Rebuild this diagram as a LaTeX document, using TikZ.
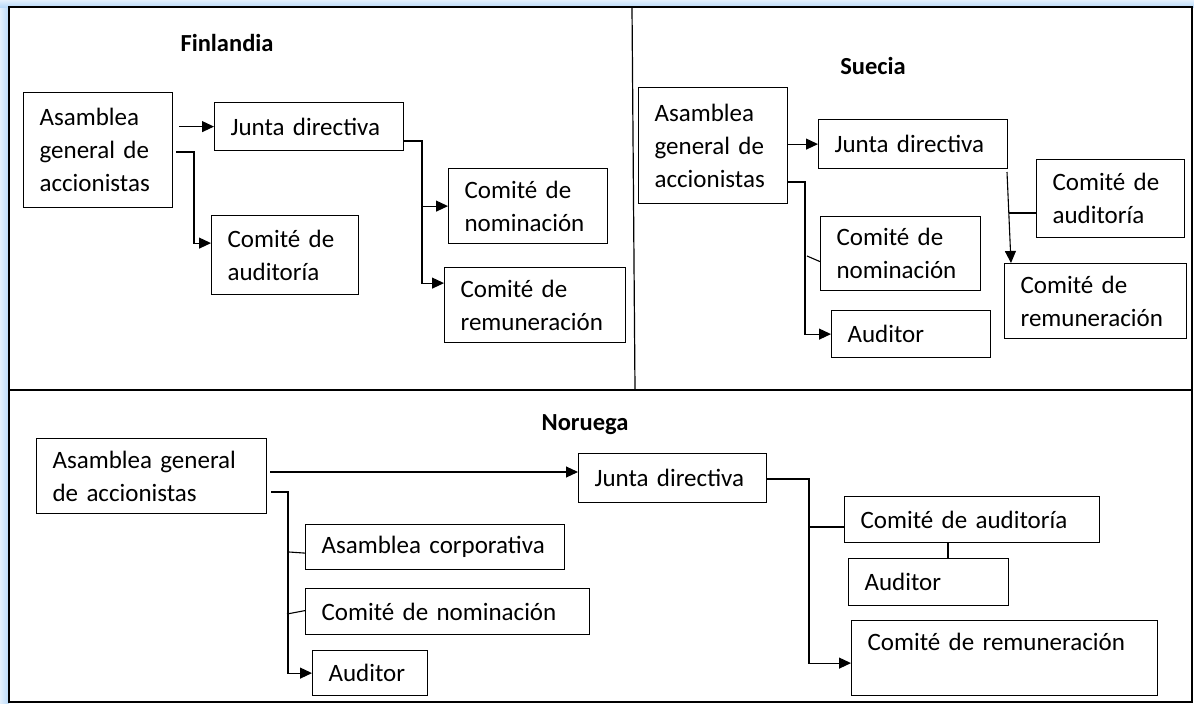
\documentclass[tikz,border=0pt]{standalone}
\usepackage{fontspec}
\setmainfont{Carlito}
\usetikzlibrary{arrows.meta}

\definecolor{brillo}{RGB}{185,218,250}

\begin{document}
\begin{tikzpicture}[x=1pt, y=-1pt,
  caja/.style 2 args={draw, line width=1.2pt, anchor=north west, align=left,
    inner xsep=16pt, inner ysep=0pt, text width=#1, minimum height=#2,
    font=\fontsize{25}{33}\selectfont},
  titulo/.style={font=\bfseries\fontsize{24.5}{28}\selectfont},
  flecha/.style={line width=1.1pt, -{Triangle[length=12pt,width=11pt]}},
  linea/.style={line width=1.1pt},
  marco/.style={line width=1.5pt}]
  \useasboundingbox (0,0) rectangle (1194,704);
  \shade[left color=brillo!40, right color=brillo] (0,0) rectangle (9,704);
  \shade[top color=brillo!40, bottom color=brillo] (0,0) rectangle (1194,7);
  \draw[marco] (9,7) rectangle (1192,702);
  \draw[marco] (9,390) -- (1192,390);
  \draw[line width=1.2pt] (632,7) -- (635,390);

  % Finlandia
  \node[titulo] (tfin) at (227,43) {Finlandia};
  \node[caja={117pt}{115pt}] (A1) at (23,92) {Asamblea\\general de\\accionistas};
  \node[caja={157pt}{48pt}] (J1) at (214,102) {Junta directiva};
  \node[caja={115pt}{79pt}] (C1) at (211,215) {Comité de\\auditoría};
  \node[caja={127pt}{75pt}] (N1) at (448,168) {Comité de\\nominación};
  \node[caja={149pt}{75pt}] (R1) at (444,267) {Comité de\\remuneración};
  \coordinate (f1) at (194,152);
  \coordinate (f2) at (422,141);
  \draw[flecha] ([xshift=6pt]A1.east |- J1.west) -- (J1.west);
  \draw[flecha] ([xshift=3pt]A1.east |- f1) -- (f1) |- ([yshift=12pt]C1.west);
  \draw[flecha] (J1.east |- f2) -- (f2) |- ([yshift=22pt]R1.west);
  \draw[flecha] (f2 |- N1.west) -- (N1.west);

  % Suecia
  \node[titulo] (tsue) at (873,66) {Suecia};
  \node[caja={117pt}{116pt}] (A2) at (638,87) {Asamblea\\general de\\accionistas};
  \node[caja={157pt}{49pt}] (J2) at (818,119) {Junta directiva};
  \node[caja={128pt}{74pt}] (N2) at (820,216) {Comité de\\nominación};
  \node[caja={127pt}{47pt}] (Au2) at (831,310) {Auditor};
  \node[caja={116pt}{78pt}] (C2) at (1036,159) {Comité de\\auditoría};
  \node[caja={150pt}{75pt}] (R2) at (1004,263) {Comité de\\remuneración};
  \coordinate (s1) at (805,182);
  \coordinate (s2) at (807,256);
  \coordinate (s3) at (1007,172);
  \coordinate (s5) at (1009,213);
  \draw[flecha] (A2.east |- J2.west) -- (J2.west);
  \draw[flecha] (A2.east |- s1) -- (s1) |- (Au2.west);
  \draw[linea] (s2) -- ([yshift=-8pt]N2.west);
  \draw[flecha] (s3) -- ([xshift=7pt]R2.north west);
  \draw[linea] (s5) -- (C2.west |- s5);

  % Noruega
  \node[titulo] (tnor) at (585,425) {Noruega};
  \node[caja={198pt}{75pt}] (A3) at (36,438) {Asamblea general\\de accionistas};
  \node[caja={156pt}{49pt}] (J3) at (578,453) {Junta directiva};
  \node[caja={227pt}{45pt}] (AC3) at (305,524) {Asamblea corporativa};
  \node[caja={252pt}{46pt}] (NC3) at (305,588) {Comité de nominación};
  \node[caja={83pt}{45pt}] (Au3) at (312,650) {Auditor};
  \node[caja={223pt}{46pt}] (C3) at (844,496) {Comité de auditoría};
  \node[caja={128pt}{47pt}] (Au3b) at (848,558) {Auditor};
  \node[caja={274pt}{75pt}] (R3) at (851,620) {Comité de remuneración\\\mbox{}};
  \coordinate (n0) at (270,472);
  \coordinate (n1) at (288,492);
  \coordinate (n2) at (289,552);
  \coordinate (n3) at (287,614);
  \coordinate (n4) at (809,479);
  \coordinate (n5) at (809,527);
  \draw[flecha] (n0) -- (J3.west |- n0);
  \draw[flecha] ([xshift=4pt]A3.east |- n1) -- (n1) |- (Au3.west);
  \draw[linea] (n2) -- ([yshift=-6pt]AC3.west);
  \draw[linea] (n3) -- ([yshift=1pt]NC3.west);
  \draw[flecha] (J3.east |- n4) -- (n4) |- ([yshift=-5pt]R3.west);
  \draw[linea] (n5) -- (C3.west |- n5);
  \draw[linea] ([xshift=104pt]C3.south west) -- ([xshift=100pt]Au3b.north west);
\end{tikzpicture}
\end{document}
